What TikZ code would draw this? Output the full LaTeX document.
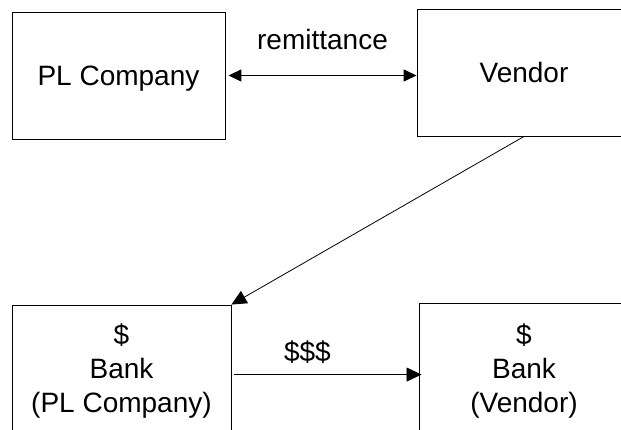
\documentclass[tikz,border=0pt]{standalone}
\usepackage{fontspec}
\setmainfont{Liberation Sans}
\usetikzlibrary{arrows.meta}
\begin{document}
\begin{tikzpicture}[x=1pt,y=-1pt,
  txt/.style={font=\fontsize{28}{34}\selectfont},
  box/.style={txt, draw=black, line width=0.9pt, rectangle, inner sep=0pt, align=center},
  onebox/.style={box, text height=20pt, text depth=0pt},
  flow/.style={draw=black, line width=0.8pt, -{Triangle[length=15pt,width=14pt]}},
  twoway/.style={draw=black, line width=1.4pt, {Triangle[length=13pt,width=12pt]}-{Triangle[length=13pt,width=12pt]}},
  lbl/.style={txt, inner sep=0pt}]
\useasboundingbox (0,0) rectangle (621,430);
\clip (0,0) rectangle (621,430);

% parties
\node[onebox, minimum width=213pt, minimum height=127pt] (pl) at (118.5,75.5) {PL Company};
\node[onebox, minimum width=214pt, minimum height=127pt] (vendor) at (524,72.5) {Vendor};

% banks
\node[box, minimum width=219pt, minimum height=132pt] (bankpl) at (121.5,371) {\$\\Bank\\(PL Company)};
\node[box, minimum width=210pt, minimum height=136pt] (bankv) at (524,371) {\$\\Bank\\(Vendor)};

% remittance between the parties
\draw[twoway] ([xshift=3pt]pl.east) -- (pl.east -| vendor.west)
  node[lbl, midway, anchor=base, yshift=26pt] (remit) {remittance};

% vendor to the payer's bank
\draw[flow] (vendor.south) -- (bankpl.north east);

% transfer between the banks
\draw[flow] ([shift={(3,70)}]bankpl.north east) -- ([shift={(3,70)}]bankpl.north east -| bankv.west)
  node[lbl, pos=0.39, anchor=base, yshift=13pt] (money) {\$\$\$};
\end{tikzpicture}
\end{document}
